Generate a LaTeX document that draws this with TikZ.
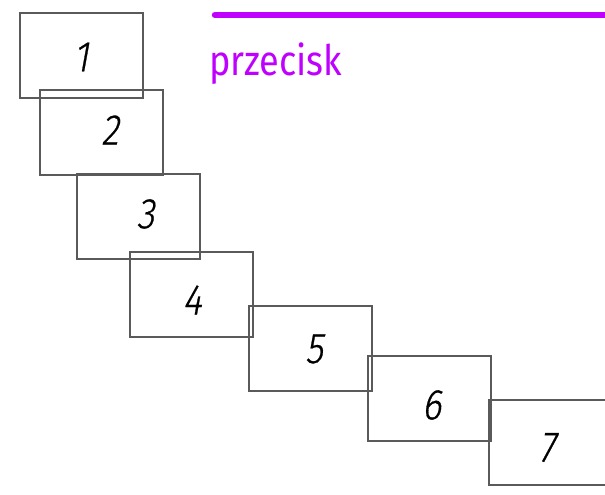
\documentclass[tikz,border=0pt]{standalone}
\usepackage{fontspec}
\setmainfont{Fira Sans}
\newfontfamily\digitfont[FakeSlant=0.18,FakeStretch=0.85,FakeBold=0.6]{Fira Sans Light}
\newfontfamily\titlefont[FakeStretch=0.86]{Fira Sans}
\definecolor{boxgray}{RGB}{90,90,90}
\definecolor{violet}{RGB}{192,0,255}
\tikzset{
  frame/.style={draw=boxgray, line width=1.4pt, minimum width=123pt, minimum height=85pt,
    inner sep=0pt, outer sep=0pt},
  num/.style={font=\digitfont\fontsize{43}{43}\selectfont, inner sep=0pt, text=black}
}
\begin{document}
\begin{tikzpicture}[x=1pt,y=-1pt]
\useasboundingbox (0,0) rectangle (605,495);
\clip (0,0) rectangle (605,495);
% stacked frames
\node[frame] (b1) at (81.5,55.5) {};
\node[frame] (b2) at (101.5,132.5) {};
\node[frame] (b3) at (138.5,216.5) {};
\node[frame] (b4) at (191.5,294.5) {};
\node[frame] (b5) at (310.5,348.5) {};
\node[frame] (b6) at (429.5,398.5) {};
\node[frame] (b7) at (550.5,442.5) {};
% frame numbers
\node[num] (n1) at (81,57) {1};
\node[num] (n2) at (110,130) {2};
\node[num] (n3) at (145.5,214) {3};
\node[num] (n4) at (192,300) {4};
\node[num] (n5) at (314,349) {5};
\node[num] (n6) at (431.5,405) {6};
\node[num] (n7) at (547,447.5) {7};
% heading bar and caption
\coordinate (barL) at (215,15);
\coordinate (barR) at (620,15);
\draw[violet, line width=6.5pt, line cap=round] (barL) -- (barR);
\node[anchor=base west, inner sep=0pt, text=violet,
  font=\titlefont\fontsize{42}{42}\selectfont] (cap) at (209,75.7) {przecisk};
\end{tikzpicture}
\end{document}
